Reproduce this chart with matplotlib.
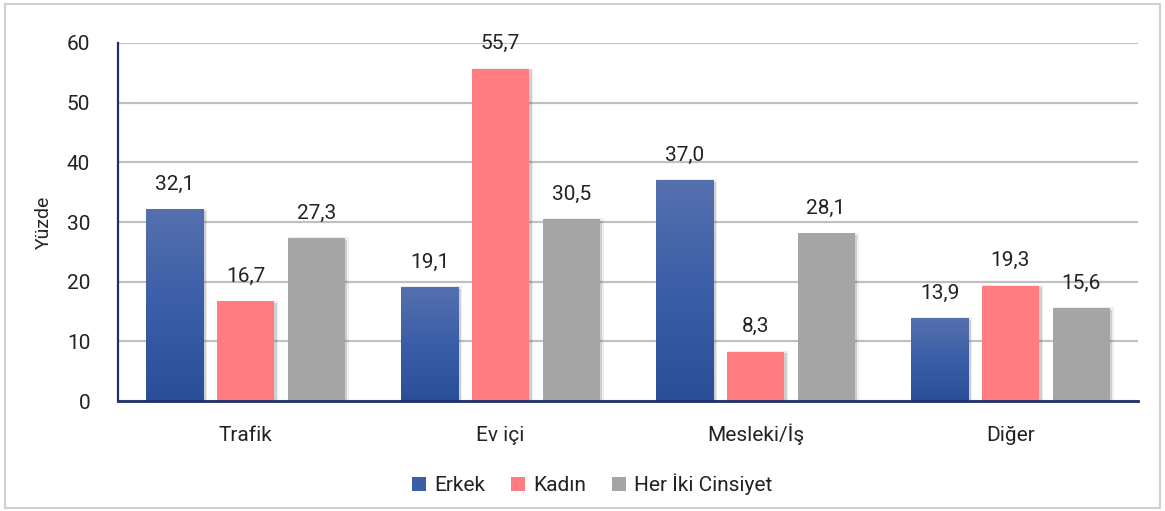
import numpy as np
import matplotlib.pyplot as plt
from matplotlib.colors import LinearSegmentedColormap
from matplotlib.patches import Rectangle
import matplotlib.transforms as mtrans

plt.rcParams['font.family'] = ['Roboto', 'DejaVu Sans']

kategoriler = ['Trafik', 'Ev içi', 'Mesleki/İş', 'Diğer']
erkek = [32.1, 19.1, 37.0, 13.9]
kadin = [16.7, 55.7, 8.3, 19.3]
her_iki = [27.3, 30.5, 28.1, 15.6]
seriler = ['Erkek', 'Kadın', 'Her İki Cinsiyet']
y_ticks = [0, 10, 20, 30, 40, 50, 60]

kolor_kadin = '#ff7c80'
kolor_szary = '#a5a5a5'
kolor_os = '#1f3068'
gradient = LinearSegmentedColormap.from_list('niebieski', ['#2a4f98', '#3a5ea8', '#5670ae'])

fig = plt.figure(figsize=(11.65, 5.11), dpi=100)
ax = fig.add_axes([0.1013, 0.215, 0.8755, 0.701])

x = np.arange(len(kategoriler))
szer = 0.224
odst = 0.277

b1 = ax.bar(x - odst, erkek, szer, color='#3a5ea8', label=seriler[0], zorder=3)
b2 = ax.bar(x, kadin, szer, color=kolor_kadin, label=seriler[1], zorder=3)
b3 = ax.bar(x + odst, her_iki, szer, color=kolor_szary, label=seriler[2], zorder=3)

# cień pod słupkami (przesunięty o kilka pikseli)
przes = mtrans.offset_copy(ax.transData, fig=fig, x=2.5, y=-1.5, units='dots')
for bars in (b1, b2, b3):
    for p in bars:
        for d, a in [(0, 0.22), (1.5, 0.10)]:
            ax.add_patch(Rectangle((p.get_x() - 0.004 * d, 0), p.get_width() + 0.008 * d,
                                   p.get_height() + 0.25 * d, transform=przes,
                                   facecolor='#606060', alpha=a, linewidth=0, zorder=2.8))

# gradient na niebieskich słupkach
grad = np.linspace(0, 1, 256).reshape(-1, 1)
for p in b1:
    x0, w, h = p.get_x(), p.get_width(), p.get_height()
    im = ax.imshow(grad, extent=[x0, x0 + w, 0, h], origin='lower', aspect='auto',
                   cmap=gradient, zorder=3.5)
    im.set_clip_path(p)

for bars, vals in [(b1, erkek), (b2, kadin), (b3, her_iki)]:
    for p, v in zip(bars, vals):
        ax.text(p.get_x() + p.get_width() / 2, v + 2.6, f'{v:.1f}'.replace('.', ','),
                ha='center', va='bottom', fontsize=15, color='#222222')

ax.set_xlim(-0.5, 3.5)
ax.set_ylim(0, 60)
ax.set_yticks(y_ticks)
ax.set_yticklabels([str(t) for t in y_ticks], fontsize=15, color='#222222')
ax.set_xticks(x)
ax.set_xticklabels(kategoriler, fontsize=15, color='#222222', va='baseline')
ax.tick_params(axis='both', length=0)
ax.tick_params(axis='y', pad=20)
ax.tick_params(axis='x', pad=29)
ax.grid(axis='y', color='#c0c0c0', linewidth=1.6, zorder=0)
ax.set_axisbelow(True)
for s in ['top', 'right']:
    ax.spines[s].set_visible(False)
ax.spines['left'].set_color(kolor_os)
ax.spines['left'].set_linewidth(1.6)
ax.spines['bottom'].set_color(kolor_os)
ax.spines['bottom'].set_linewidth(2)
ax.spines['bottom'].set_zorder(5)
ax.set_ylabel('Yüzde', fontsize=14, color='#222222', labelpad=10)

ax.legend(loc='upper center', bbox_to_anchor=(0.465, -0.15), ncol=3, frameon=False,
          fontsize=15, handlelength=0.7, handleheight=0.7, handletextpad=0.4, columnspacing=1.2,
          labelcolor='#222222')

fig.patches.append(Rectangle((0.004, 0.006), 0.992, 0.986, transform=fig.transFigure,
                             fill=False, edgecolor='#d0d0d0', linewidth=1.5))

fig.savefig('out.png', dpi=100)
